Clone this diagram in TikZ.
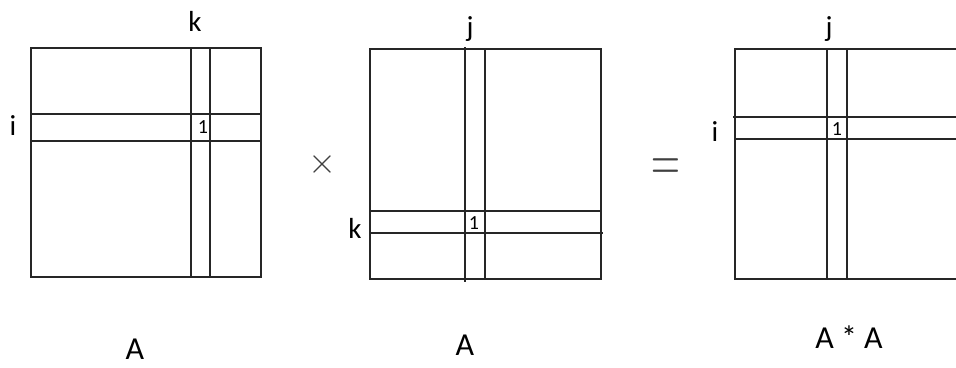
\RequirePackage{fix-cm}
\documentclass[tikz,border=0pt]{standalone}
\usepackage{fontspec}
\setmainfont{Carlito}
\usepackage{tikz}
\usetikzlibrary{positioning, calc}

\begin{document}
\begin{tikzpicture}[
  x=1pt, y=-1pt,
  gridline/.style={draw=black!85, line width=1.4pt},
  idx/.style={inner sep=0pt, font=\fontsize{29}{30}\selectfont},
  cellone/.style={inner sep=0pt, font=\fontsize{20}{20}\selectfont},
  matname/.style={inner sep=0pt, font=\fontsize{32}{33}\selectfont},
  op/.style={inner sep=0pt, text=black!75}
]
  \useasboundingbox (0,0) rectangle (956,367);
  \clip (0,0) rectangle (956,367);

  % first factor
  \draw[gridline] (31,48) rectangle (261,277);
  \draw[gridline] (191,48) -- (191,277) (210,48) -- (210,277);
  \draw[gridline] (31,114) -- (261,114) (31,141) -- (261,141);
  \node[idx] (k1) at (195,21) {k};
  \node[idx] (i1) at (13,126) {i};
  \node[cellone] (c1) at (203,127) {1};
  \node[matname] (n1) at (135,349) {A};

  % times
  \node[op, font=\fontsize{36}{36}\selectfont] (times) at (322,164) {$\times$};

  % second factor
  \draw[gridline] (370,49) rectangle (601,279);
  \draw[gridline] (465,47) -- (465,282) (485,49) -- (485,279);
  \draw[gridline] (370,211) -- (601,211) (370,233) -- (603,233);
  \node[idx] (j2) at (470,29) {j};
  \node[idx] (k2) at (355,228) {k};
  \node[cellone] (c2) at (474,223) {1};
  \node[matname] (n2) at (465,345) {A};

  % equals
  \node[op, font=\fontsize{40}{40}\selectfont, yscale=1.6] (eq) at (666,170) {$=$};

  % product
  \draw[gridline] (960,49) -- (735,49) -- (735,279) -- (960,279);
  \draw[gridline] (827,49) -- (827,279) (847,49) -- (847,279);
  \draw[gridline] (733,117) -- (960,117) (735,139) -- (960,139);
  \node[idx] (j3) at (829,29) {j};
  \node[idx] (i3) at (715,132) {i};
  \node[cellone] (c3) at (837,129) {1};
  \node[matname] (n3) at (849,337) {A * A};
\end{tikzpicture}
\end{document}
